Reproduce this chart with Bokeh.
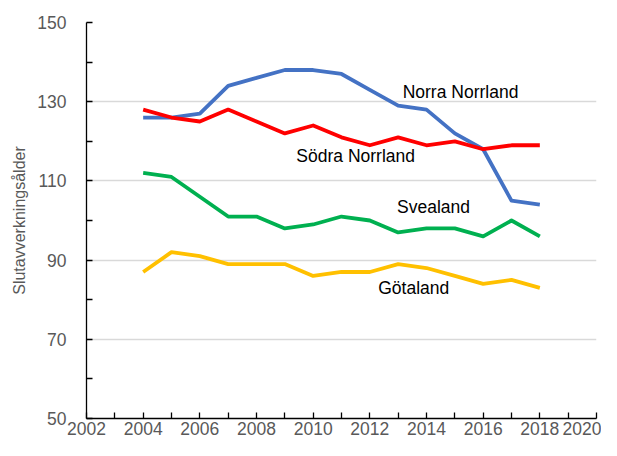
from bokeh.plotting import figure
from bokeh.models import Range1d, FixedTicker, Label
from bokeh.embed import file_html
from bokeh.resources import INLINE

years = [2004, 2005, 2006, 2007, 2008, 2009, 2010, 2011, 2012, 2013, 2014, 2015, 2016, 2017, 2018]
norra_norrland = [126, 126, 127, 134, 136, 138, 138, 137, 133, 129, 128, 122, 118, 105, 104]
sodra_norrland = [128, 126, 125, 128, 125, 122, 124, 121, 119, 121, 119, 120, 118, 119, 119]
svealand = [112, 111, 106, 101, 101, 98, 99, 101, 100, 97, 98, 98, 96, 100, 96]
gotaland = [87, 92, 91, 89, 89, 89, 86, 87, 87, 89, 88, 86, 84, 85, 83]

x_ticks = list(range(2002, 2021, 2))
x_minor = list(range(2003, 2020, 2))
y_ticks = [50, 70, 90, 110, 130, 150]
y_minor = [60, 80, 100, 120, 140]

series_names = ["Norra Norrland", "Södra Norrland", "Svealand", "Götaland"]
series_values = [norra_norrland, sodra_norrland, svealand, gotaland]
colors = ["#4472C4", "#FF0000", "#00B050", "#FFC000"]
label_pos = [(2015.2, 132.4), (2011.5, 116.2), (2014.25, 103.5), (2013.55, 83.0)]

FONT = "Liberation Sans"
GRAY = "#595959"

p = figure(width=601, height=440, output_backend="svg", toolbar_location=None,
           x_range=Range1d(2002, 2020), y_range=Range1d(50, 150),
           min_border_left=86, min_border_right=5, min_border_top=22, min_border_bottom=22)
p.outline_line_color = None
p.background_fill_color = "white"
p.border_fill_color = "white"

p.xgrid.grid_line_color = None
p.ygrid.grid_line_color = "#D9D9D9"
p.ygrid.grid_line_width = 1.3

p.xaxis.ticker = FixedTicker(ticks=x_ticks, minor_ticks=x_minor)
p.yaxis.ticker = FixedTicker(ticks=y_ticks, minor_ticks=y_minor)

for ax in (p.xaxis, p.yaxis):
    ax.axis_line_color = "black"
    ax.axis_line_width = 1.3
    ax.major_tick_line_color = "black"
    ax.minor_tick_line_color = "black"
    ax.major_tick_line_width = 1.3
    ax.minor_tick_line_width = 1.3
    ax.major_tick_out = 0
    ax.minor_tick_out = 0
    ax.major_tick_in = 6
    ax.minor_tick_in = 6
    ax.major_label_text_font = FONT
    ax.major_label_text_font_size = "17.5px"
    ax.major_label_text_color = GRAY

p.xaxis.major_label_standoff = 3
p.yaxis.major_label_standoff = 20
p.yaxis.axis_label = "Slutavverkningsålder"
p.yaxis.axis_label_text_font = FONT
p.yaxis.axis_label_text_font_size = "16px"
p.yaxis.axis_label_text_font_style = "normal"
p.yaxis.axis_label_text_color = GRAY
p.yaxis.axis_label_standoff = 6

for name, vals, c, (lx, ly) in zip(series_names, series_values, colors, label_pos):
    p.line(years, vals, line_color=c, line_width=3.8, line_join="round")
    p.add_layout(Label(x=lx, y=ly, text=name, text_font=FONT, text_font_size="17.5px",
                       text_color="black", text_align="center", text_baseline="middle"))

open("out.html", "w").write(file_html(p, INLINE))
